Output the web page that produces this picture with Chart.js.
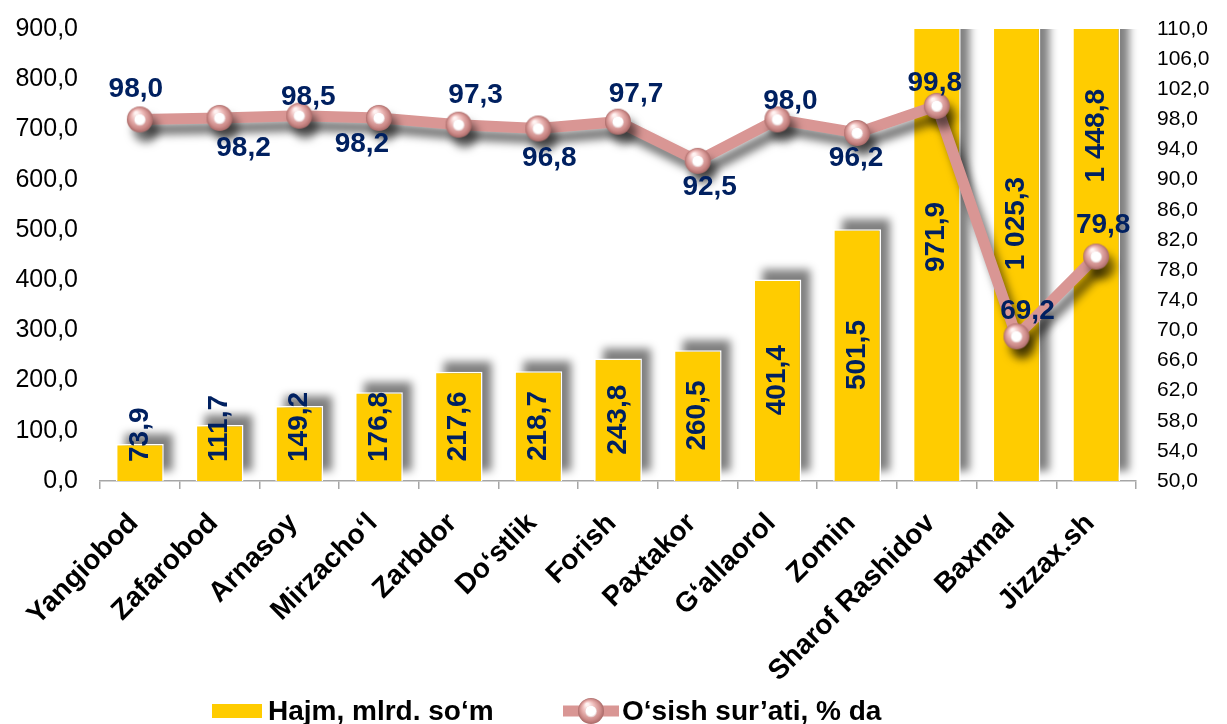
<!DOCTYPE html>
<html><head><meta charset="utf-8">
<script src="https://cdn.jsdelivr.net/npm/chart.js@4/dist/chart.umd.min.js"></script>
<style>html,body{margin:0;padding:0;background:#fff;overflow:hidden}#wrap{width:1227px;height:724px}</style>
</head><body><div id="wrap"><canvas id="c" width="1227" height="724"></canvas></div>
<script>
// ---- data ----
const categories = ['Yangiobod','Zafarobod','Arnasoy','Mirzacho‘l','Zarbdor','Do‘stlik','Forish','Paxtakor','G‘allaorol','Zomin','Sharof Rashidov','Baxmal','Jizzax.sh'];
const volume = [73.9,111.7,149.2,176.8,217.6,218.7,243.8,260.5,401.4,501.5,971.9,1025.3,1448.8];
const growth = [98.0,98.2,98.5,98.2,97.3,96.8,97.7,92.5,98.0,96.2,99.8,69.2,79.8];
const seriesNames = ['Hajm, mlrd. so‘m','O‘sish sur’ati, % da'];
const leftTicks = {min:0, max:900, step:100};
const rightTicks = {min:50, max:110, step:4};

// label placement for the growth labels (dx, dy in px from the point)
const growthLabelOffsets = [[-4,-30],[24,30],[9,-18],[-17,26],[17,-29],[11,30],[18,-27],[12,26],[13,-18],[-1,25],[-2,-23],[11,-25],[7,-31]];

const FONT = '"Liberation Sans", Arial, Helvetica, sans-serif';
const BAR = '#FFCC00', LINE = '#D99694', NAVY = '#002060';

function fmt(v){
  const s = v.toFixed(1).split('.');
  return s[0].replace(/\B(?=(\d{3})+(?!\d))/g,' ') + ',' + s[1];
}

function makeMarker(r){
  const c = document.createElement('canvas');
  const s = 2*r+2; c.width = s; c.height = s;
  const g = c.getContext('2d'); const cx = s/2, cy = s/2;
  const grad = g.createRadialGradient(cx-r*0.3, cy-r*0.5, r*0.1, cx, cy, r);
  grad.addColorStop(0,'#FFF3F2'); grad.addColorStop(0.4,'#EDBAB8'); grad.addColorStop(0.8,'#CC8A88'); grad.addColorStop(1,'#A96A68');
  g.fillStyle = grad; g.beginPath(); g.arc(cx,cy,r,0,Math.PI*2); g.fill();
  const wg = g.createRadialGradient(cx-1,cy-1,0,cx,cy,r*0.45);
  wg.addColorStop(0,'#FFFFFF'); wg.addColorStop(0.8,'#FFFFFF'); wg.addColorStop(1,'#E8D0D0');
  g.fillStyle = wg; g.beginPath(); g.arc(cx,cy+0.5,r*0.45,0,Math.PI*2); g.fill();
  return c;
}
const marker = makeMarker(13);

const effects = {
  id:'effects',
  beforeDatasetDraw(chart, args){
    const ctx = chart.ctx;
    if (args.index === 0){
      const a = chart.chartArea;
      ctx.save();
      ctx.beginPath(); ctx.rect(a.left, a.top, a.right - a.left + 40, a.bottom - a.top); ctx.clip();
      ctx.filter = 'blur(4px)';
      ctx.fillStyle = 'rgba(0,0,0,0.5)';
      args.meta.data.forEach(b => {
        const p = b.getProps(['x','y','base','width'], true);
        const top = Math.max(p.y, a.top - 60);
        ctx.fillRect(p.x - p.width/2 + 9, top - 10, p.width, p.base - top);
      });
      ctx.restore();
    } else if (args.index === 1){
      ctx.save();
      ctx.shadowColor = 'rgba(0,0,0,0.55)';
      ctx.shadowBlur = 8; ctx.shadowOffsetX = 6; ctx.shadowOffsetY = 10;
    }
  },
  afterDatasetDraw(chart, args){
    if (args.index === 1) chart.ctx.restore();
  },
  afterDatasetsDraw(chart){
    const ctx = chart.ctx, a = chart.chartArea;
    ctx.save();
    ctx.font = 'bold 28px ' + FONT;
    ctx.fillStyle = NAVY; ctx.textAlign = 'center'; ctx.textBaseline = 'middle';
    chart.getDatasetMeta(0).data.forEach((b, i) => {
      const p = b.getProps(['x','y','base'], true);
      const t = fmt(volume[i]);
      const w = ctx.measureText(t).width;
      let cy = (p.y + p.base)/2;
      cy = Math.min(cy, p.base - 19 - w/2);
      cy = Math.max(cy, a.top + 60 + w/2);
      ctx.save(); ctx.translate(p.x, cy); ctx.rotate(-Math.PI/2); ctx.fillText(t, 0, 0); ctx.restore();
    });
    chart.getDatasetMeta(1).data.forEach((pt, i) => {
      const o = growthLabelOffsets[i];
      ctx.fillText(fmt(growth[i]), pt.x + o[0], pt.y + o[1]);
    });
    ctx.restore();
  },
  afterDraw(chart){
    const ctx = chart.ctx;
    ctx.save();
    const y = 711;
    ctx.fillStyle = BAR; ctx.fillRect(212, 704, 50, 14);
    ctx.font = 'bold 28px ' + FONT; ctx.fillStyle = '#000'; ctx.textBaseline = 'alphabetic'; ctx.textAlign = 'left';
    ctx.fillText(seriesNames[0], 268, 720);
    ctx.strokeStyle = LINE; ctx.lineWidth = 11; ctx.lineCap = 'butt';
    ctx.beginPath(); ctx.moveTo(563, y); ctx.lineTo(619, y); ctx.stroke();
    ctx.drawImage(marker, 591 - marker.width/2, y - marker.height/2);
    ctx.fillStyle = '#000';
    ctx.fillText(seriesNames[1], 622, 720);
    ctx.restore();
  }
};

Chart.defaults.font.family = FONT;
Chart.defaults.color = '#000';

new Chart(document.getElementById('c'), {
  data: {
    labels: categories,
    datasets: [
      { type:'bar', label: seriesNames[0], data: volume, yAxisID:'y', backgroundColor: BAR,
        borderColor:'#FFFFFF', borderWidth: 1.5, barPercentage: 0.6, categoryPercentage: 1.0, order: 2 },
      { type:'line', label: seriesNames[1], data: growth, yAxisID:'y1', borderColor: LINE, borderWidth: 11,
        tension: 0, pointStyle: marker, pointRadius: 13, pointHoverRadius: 13, order: 1, clip: false }
    ]
  },
  options: {
    responsive: false, animation: false, devicePixelRatio: 1,
    layout: { padding: { top: 17, bottom: 45, left: 0, right: 0 } },
    plugins: { legend: { display: false }, tooltip: { enabled: false } },
    scales: {
      x: {
        offset: true,
        grid: { offset: true, drawOnChartArea: false, drawTicks: true, tickLength: 8, color: '#A6A6A6', lineWidth: 1.5 },
        border: { display: true, color: '#A6A6A6', width: 1.5 },
        ticks: { autoSkip: false, maxRotation: 45, minRotation: 45, padding: 18, labelOffset: -6, color: '#000', font: { size: 28, weight: 'bold' } },
        afterFit(s){ s.height = 198; }
      },
      y: {
        position: 'left', min: leftTicks.min, max: leftTicks.max,
        grid: { display: false }, border: { display: false },
        ticks: { stepSize: leftTicks.step, padding: 14, color: '#000', font: { size: 25 }, callback: v => fmt(v) },
        afterFit(s){ s.width = 100; }
      },
      y1: {
        position: 'right', min: rightTicks.min, max: rightTicks.max,
        grid: { display: false }, border: { display: false },
        ticks: { stepSize: rightTicks.step, padding: 13, color: '#000', font: { size: 21 }, callback: v => fmt(v) },
        afterFit(s){ s.width = 91; }
      }
    }
  },
  plugins: [effects]
});
</script>
</body></html>
